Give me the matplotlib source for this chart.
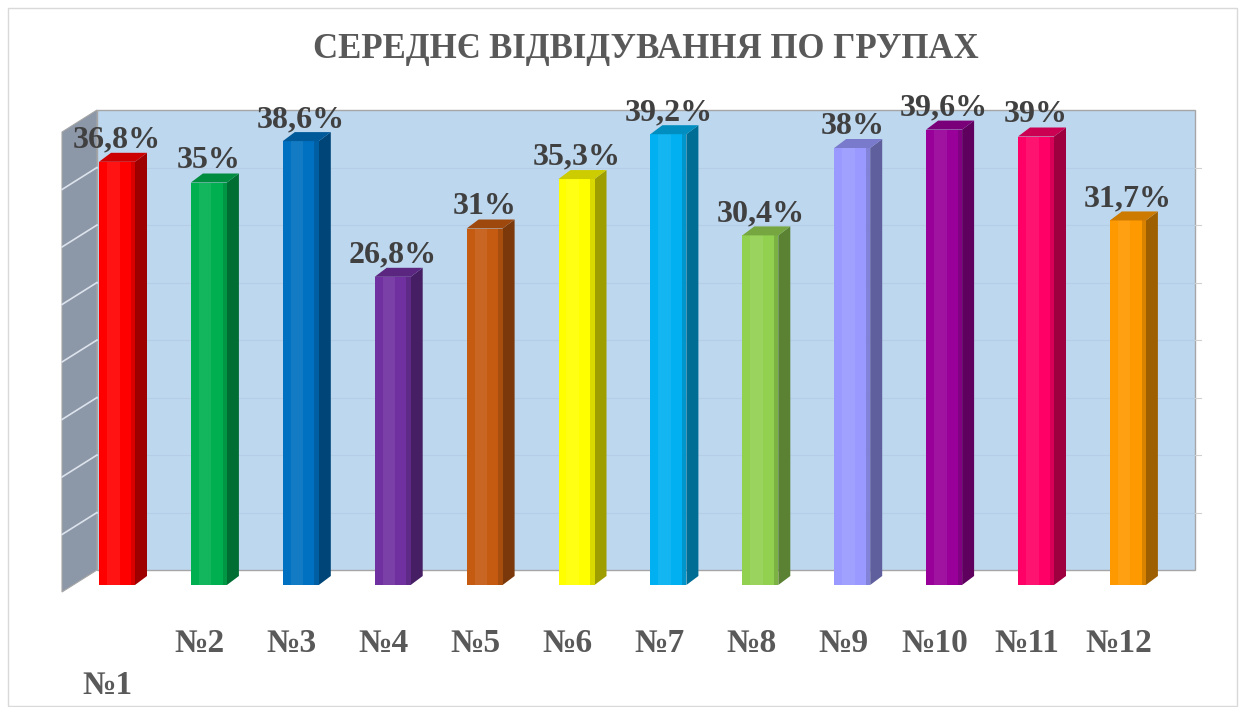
import matplotlib
matplotlib.use("Agg")
import matplotlib.pyplot as plt
from matplotlib.patches import Polygon, Rectangle
from matplotlib.colors import to_rgb
import numpy as np

# ---------------- data ----------------
title = "СЕРЕДНЄ ВІДВІДУВАННЯ ПО ГРУПАХ"
categories = ["№1", "№2", "№3", "№4", "№5", "№6", "№7", "№8", "№9", "№10", "№11", "№12"]
values = [36.8, 35.0, 38.6, 26.8, 31.0, 35.3, 39.2, 30.4, 38.0, 39.6, 39.0, 31.7]
colors = ["#FF0000", "#00B050", "#0070C0", "#7030A0", "#C55A11", "#FFFF00",
          "#00B0F0", "#92D050", "#9999FF", "#990099", "#FF0066", "#FF9900"]
axis_max = 40
grid_step = 5

# ---------------- layout helpers (pixel -> data) ----------------
W, H = 1245, 707
XS, X0 = 91.9, 117.0      # px per category, px of first bar centre
YS, Y0 = 11.5, 585.0      # px per value unit, px of baseline (front)


def X(px):
    return (px - X0) / XS


def Y(py):
    return (Y0 - py) / YS


def shade(c, f):
    r, g, b = to_rgb(c)
    return (r * f, g * f, b * f)


fig = plt.figure(figsize=(W / 100, H / 100), dpi=100)
ax = fig.add_axes([0, 0, 1, 1])
ax.set_xlim(X(0), X(W))
ax.set_ylim(Y(H), Y(0))
ax.axis("off")

serif = ["Liberation Serif", "DejaVu Serif"]

# chart border
ax.add_patch(Rectangle((X(8), Y(706)), X(1237) - X(8), Y(8) - Y(706),
                       fill=False, ec="#D9D9D9", lw=1.0, zorder=0))

# walls
bdx = X(97) - X(62)          # wall depth (x, data)
bdy = Y(570) - Y(592)        # wall depth (y, data)
fx0, fy0 = X(62), Y(592)     # front-left bottom of the left wall
bx0, by0 = fx0 + bdx, fy0 + bdy
bx1 = X(1195)
hw = axis_max                # wall height in value units

# back wall
ax.add_patch(Rectangle((bx0, by0), bx1 - bx0, hw, fc="#BDD7EE", ec="#A6A6A6", lw=1.0, zorder=1))
# left wall
ax.add_patch(Polygon([(fx0, fy0), (bx0, by0), (bx0, by0 + hw), (fx0, fy0 + hw)],
                     closed=True, fc="#8C97A8", ec="#A6A6A6", lw=0.8, zorder=1))
# gridlines
for g in np.arange(grid_step, axis_max, grid_step):
    ax.plot([bx0, bx1], [by0 + g, by0 + g], color="#B5CDE6", lw=0.8, zorder=1.5)
    ax.plot([fx0, bx0], [fy0 + g, by0 + g], color="#DDE3EC", lw=1.2, zorder=1.5)
    ax.plot([bx1, bx1 + X(1201) - X(1195)], [by0 + g, by0 + g], color="#D0D0D0", lw=0.8, zorder=1.5)

# bars
x = np.arange(len(values))
bw = 36.0 / XS
ddx = 12.0 / XS
ddy = 9.0 / YS
ax.bar(x, values, width=bw, color=colors, linewidth=0, zorder=3)
for xi, v, c in zip(x, values, colors):
    l, r = xi - bw / 2, xi + bw / 2
    # highlight stripe on front
    ax.add_patch(Rectangle((l + bw * 0.22, 0), bw * 0.35, v, fc="white", alpha=0.08, lw=0, zorder=3.1))
    ax.add_patch(Rectangle((r - bw * 0.12, 0), bw * 0.12, v, fc=shade(c, 0.85), lw=0, zorder=3.1))
    # side
    ax.add_patch(Polygon([(r, 0), (r + ddx, ddy), (r + ddx, v + ddy), (r, v)],
                         closed=True, fc=shade(c, 0.62), lw=0, zorder=3))
    # top
    ax.add_patch(Polygon([(l, v), (l + ddx, v + ddy), (r + ddx, v + ddy), (r, v)],
                         closed=True, fc=shade(c, 0.80), lw=0, zorder=3.2))
    # value label
    lab = f"{v:g}".replace(".", ",") + "%"
    ax.text(xi, v + ddy + 0.45, lab, ha="center", va="baseline",
            fontsize=23, fontweight="bold", family=serif, color="#404040", zorder=5)

# category labels
for i, cat in enumerate(categories):
    yy = Y(644) if i > 0 else Y(686)
    ax.text(i - 0.1, yy, cat, ha="center", va="center", fontsize=24,
            fontweight="bold", family=serif, color="#595959", zorder=5)

# title
ax.text(X(646), Y(49), title, ha="center", va="center", fontsize=25,
        fontweight="bold", family=serif, color="#595959", zorder=5)

fig.savefig("out.png", dpi=100)
